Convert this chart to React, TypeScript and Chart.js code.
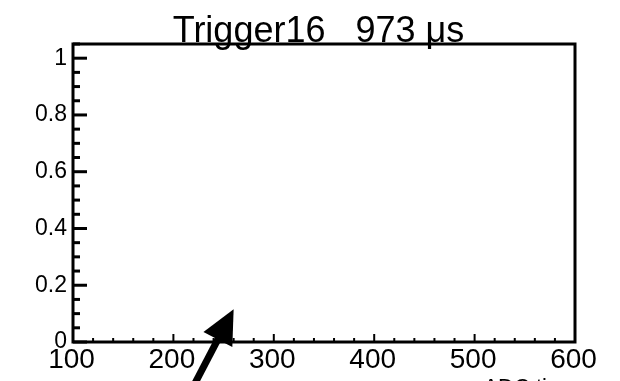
import React, { useEffect, useRef } from "react";
import { Chart, registerables } from "chart.js";

Chart.register(...registerables);

// Histogram frame for one trigger window (no entries recorded)
const TITLE = "Trigger16   973 μs";
const X_AXIS_TITLE = "ADC tics";
const X_MIN = 100;
const X_MAX = 600;
const Y_MIN = 0;
const Y_MAX = 1.05;
const X_TICKS = [100, 200, 300, 400, 500, 600];
const X_TICK_LABELS = ["100", "200", "300", "400", "500", "600"];
const X_MINOR_STEP = 20;
const Y_TICKS = [0, 0.2, 0.4, 0.6, 0.8, 1];
const Y_TICK_LABELS = ["0", "0.2", "0.4", "0.6", "0.8", "1"];
const Y_MINOR_STEP = 0.05;
const ENTRIES: { x: number; y: number }[] = [];
// marker arrow, in data coordinates (tail -> head)
const ARROW_FROM = [218, -0.169];
const ARROW_TO = [260, 0.115];

const FONT = '"Liberation Sans", Arial, Helvetica, sans-serif';

const rootStyle = {
  id: "rootStyle",
  afterDraw(chart: any) {
    const ctx: CanvasRenderingContext2D = chart.ctx;
    const { left, right, top, bottom } = chart.chartArea;
    const xs = chart.scales.x;
    const ys = chart.scales.y;
    ctx.save();
    ctx.strokeStyle = "#000";
    ctx.fillStyle = "#000";

    // x ticks, drawn inward from the bottom edge
    ctx.lineWidth = 2;
    const nx = Math.round((X_MAX - X_MIN) / X_MINOR_STEP);
    for (let i = 0; i <= nx; i++) {
      const v = X_MIN + i * X_MINOR_STEP;
      const major = X_TICKS.includes(v);
      const px = xs.getPixelForValue(v);
      ctx.beginPath();
      ctx.moveTo(px, bottom);
      ctx.lineTo(px, bottom - (major ? 8 : 4));
      ctx.stroke();
    }

    // y ticks, drawn inward from the left edge
    ctx.lineWidth = 3;
    const ny = Math.floor((Y_MAX - Y_MIN) / Y_MINOR_STEP + 1e-6);
    for (let i = 0; i <= ny; i++) {
      const v = Y_MIN + i * Y_MINOR_STEP;
      const major = Y_TICKS.some((t) => Math.abs(t - v) < 1e-6);
      const py = ys.getPixelForValue(v);
      ctx.beginPath();
      ctx.moveTo(left, py);
      ctx.lineTo(left + (major ? 14 : 7), py);
      ctx.stroke();
    }

    // frame
    ctx.lineWidth = 3;
    ctx.strokeRect(left, top, right - left, bottom - top);

    // y tick labels
    ctx.font = `23px ${FONT}`;
    ctx.textAlign = "right";
    ctx.textBaseline = "middle";
    Y_TICKS.forEach((v, i) => {
      ctx.fillText(Y_TICK_LABELS[i], left - 6, ys.getPixelForValue(v));
    });

    // x tick labels
    ctx.font = `28px ${FONT}`;
    ctx.textAlign = "center";
    ctx.textBaseline = "middle";
    X_TICKS.forEach((v, i) => {
      ctx.fillText(X_TICK_LABELS[i], xs.getPixelForValue(v) - 1.5, bottom + 18);
    });

    // x axis title, right-aligned
    ctx.font = `22px ${FONT}`;
    ctx.textAlign = "right";
    ctx.textBaseline = "alphabetic";
    ctx.fillText(X_AXIS_TITLE, right - 6, bottom + 51.5);

    // title
    ctx.font = `36px ${FONT}`;
    ctx.textAlign = "center";
    ctx.textBaseline = "alphabetic";
    ctx.fillText(TITLE, 318.5, 42);

    // arrow with filled head
    const x0 = xs.getPixelForValue(ARROW_FROM[0]);
    const y0 = ys.getPixelForValue(ARROW_FROM[1]);
    const x1 = xs.getPixelForValue(ARROW_TO[0]);
    const y1 = ys.getPixelForValue(ARROW_TO[1]);
    const len = Math.hypot(x1 - x0, y1 - y0);
    const ux = (x1 - x0) / len;
    const uy = (y1 - y0) / len;
    const nxv = -uy;
    const nyv = ux;
    const headLen = 34;
    const headHalf = 16.3;
    ctx.lineWidth = 7;
    ctx.lineCap = "butt";
    ctx.beginPath();
    ctx.moveTo(x0, y0);
    ctx.lineTo(x1 - ux * headLen * 0.8, y1 - uy * headLen * 0.8);
    ctx.stroke();
    const bx = x1 - ux * headLen;
    const by = y1 - uy * headLen;
    ctx.beginPath();
    ctx.moveTo(x1, y1);
    ctx.lineTo(bx + nxv * headHalf, by + nyv * headHalf);
    ctx.lineTo(bx - nxv * headHalf, by - nyv * headHalf);
    ctx.closePath();
    ctx.fill();

    ctx.restore();
  },
};

export default function App() {
  const ref = useRef<HTMLCanvasElement | null>(null);

  useEffect(() => {
    if (!ref.current) return;
    const chart = new Chart(ref.current, {
      type: "scatter",
      data: {
        datasets: [{ label: "entries", data: ENTRIES, pointRadius: 0 }],
      },
      options: {
        responsive: false,
        animation: false,
        devicePixelRatio: 1,
        layout: { padding: { left: 73, top: 44, right: 45, bottom: 39 } },
        plugins: {
          legend: { display: false },
          title: { display: false },
          tooltip: { enabled: false },
        },
        scales: {
          x: { type: "linear", min: X_MIN, max: X_MAX, display: false },
          y: { type: "linear", min: Y_MIN, max: Y_MAX, display: false },
        },
      },
      plugins: [rootStyle],
    });
    return () => chart.destroy();
  }, []);

  return (
    <div style={{ position: "fixed", left: 0, top: 0, width: 620, height: 381, background: "#fff" }}>
      <canvas ref={ref} width={620} height={381} style={{ display: "block" }} />
    </div>
  );
}
